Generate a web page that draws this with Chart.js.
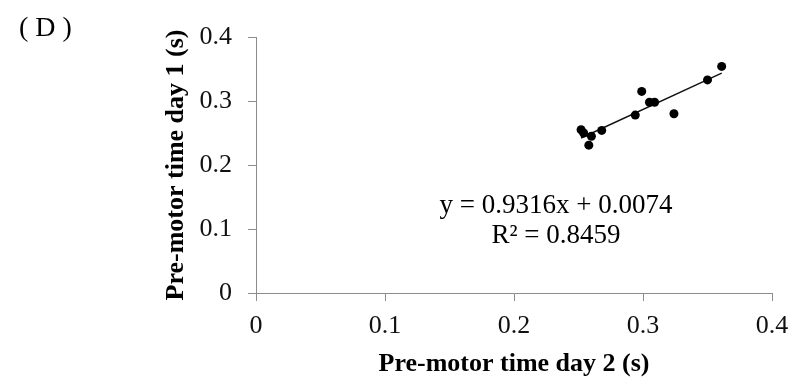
<!DOCTYPE html>
<html>
<head>
<meta charset="utf-8">
<script src="https://cdn.jsdelivr.net/npm/chart.js@4/dist/chart.umd.min.js"></script>
<style>
  html, body { margin: 0; padding: 0; background: #fff; }
  #wrap { width: 799px; height: 387px; }
</style>
</head>
<body>
<div id="wrap"><canvas id="c" width="799" height="387"></canvas></div>
<script>
// pre-motor times (s)
var day2 = [0.252, 0.254, 0.260, 0.258, 0.268, 0.294, 0.299, 0.305, 0.309, 0.324, 0.350, 0.361];
var day1 = [0.255, 0.250, 0.245, 0.231, 0.254, 0.278, 0.315, 0.298, 0.298, 0.280, 0.333, 0.354];

// linear trendline end points (y = 0.9316x + 0.0074)
var trendX = [0.252, 0.361];
var trendY = [0.2422, 0.3437];

var axisTicks = [0, 0.1, 0.2, 0.3, 0.4];
var eqLines = ['y = 0.9316x + 0.0074', 'R\u00B2 = 0.8459'];
var panelLabel = '( D )';

var serif = '"Liberation Serif", "Times New Roman", serif';
var axisGrey = '#8c8c8c';

var pts = day2.map(function (x, i) { return { x: x, y: day1[i] }; });
var trend = trendX.map(function (x, i) { return { x: x, y: trendY[i] }; });

var textPlugin = {
  id: 'texts',
  afterDraw: function (chart) {
    var ctx = chart.ctx;
    ctx.save();
    ctx.fillStyle = '#000';
    ctx.textBaseline = 'alphabetic';
    ctx.font = '28px ' + serif;
    ctx.textAlign = 'left';
    ctx.fillText(panelLabel, 19, 36);
    ctx.font = '27px ' + serif;
    ctx.textAlign = 'center';
    ctx.fillText(eqLines[0], 556, 213);
    ctx.fillText(eqLines[1], 556, 243);
    ctx.restore();
  }
};

function axis(title, extra) {
  var o = {
    type: 'linear',
    min: 0,
    max: 0.4,
    afterBuildTicks: function (s) { s.ticks = axisTicks.map(function (v) { return { value: v }; }); },
    border: { display: true, color: axisGrey, width: 1 },
    grid: { drawOnChartArea: false, drawTicks: true, tickLength: 8, color: axisGrey },
    ticks: {
      color: '#111',
      font: { family: serif, size: 26 },
      callback: function (v) { return String(Math.round(v * 10) / 10); }
    },
    title: {
      display: true,
      text: title,
      color: '#000',
      font: { family: serif, size: 26, weight: 'bold' }
    }
  };
  for (var k in extra) o[k] = extra[k];
  return o;
}

var xAxis = axis('Pre-motor time day 2 (s)', { position: 'bottom' });
xAxis.ticks.padding = 10;
xAxis.title.padding = { top: 0, bottom: 7 };
xAxis.afterFit = function (s) { s.height = 94; };

var yAxis = axis('Pre-motor time day 1 (s)', { position: 'left' });
yAxis.ticks.padding = 16;
yAxis.title.padding = { top: 5, bottom: 0 };
yAxis.afterFit = function (s) { s.width = 100; };

new Chart(document.getElementById('c'), {
  type: 'scatter',
  data: {
    datasets: [
      {
        label: 'data',
        data: pts,
        backgroundColor: '#000',
        borderWidth: 0,
        pointRadius: 4.5,
        pointHoverRadius: 4.5
      },
      {
        label: 'trend',
        type: 'line',
        data: trend,
        borderColor: '#111',
        borderWidth: 1.4,
        pointRadius: 0,
        fill: false
      }
    ]
  },
  options: {
    responsive: false,
    animation: false,
    layout: { padding: { left: 156, right: 27, top: 37, bottom: 0 } },
    plugins: { legend: { display: false }, tooltip: { enabled: false } },
    scales: { x: xAxis, y: yAxis }
  },
  plugins: [textPlugin]
});
</script>
</body>
</html>
